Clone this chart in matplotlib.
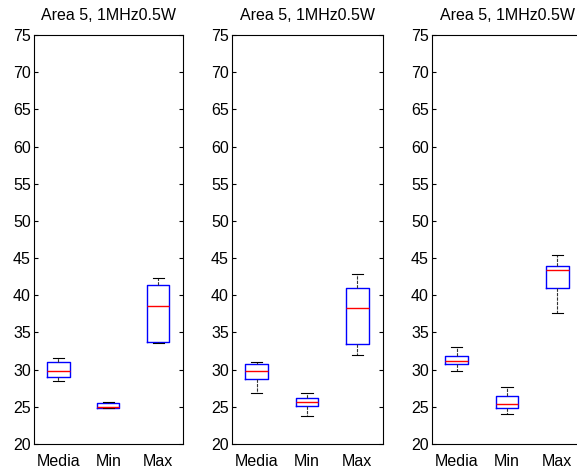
import matplotlib
matplotlib.use("Agg")
from matplotlib import pyplot as plt

plt.rcParams['font.family'] = ['Liberation Sans', 'DejaVu Sans']
plt.rcParams['font.size'] = 11.5

labels = ["Media", "Min", "Max"]
title = "Area 5, 1MHz0.5W"

# per subplot, per group: lower whisker, q1, median, q3, upper whisker
panel1 = [[28.5, 29.0, 29.8, 31.0, 31.5],
          [24.8, 24.9, 25.0, 25.5, 25.6],
          [33.6, 33.7, 38.5, 41.4, 42.3]]
panel2 = [[26.9, 28.8, 29.8, 30.7, 31.0],
          [23.7, 25.1, 25.6, 26.2, 26.9],
          [32.0, 33.5, 38.3, 41.0, 42.9]]
panel3 = [[29.8, 30.8, 31.2, 31.8, 33.0],
          [24.0, 24.9, 25.4, 26.5, 27.6],
          [37.6, 41.0, 43.4, 43.9, 45.4]]
panels = [panel1, panel2, panel3]

fig = plt.figure(figsize=(5.77, 4.69), dpi=100)
lefts = [33.5 / 577, 231.5 / 577, 431.5 / 577]
widths = [149.5 / 577, 151 / 577, 151 / 577]
bottom = (469 - 444) / 469
height = (444 - 35) / 469

for left, width, data in zip(lefts, widths, panels):
    ax = fig.add_axes([left, bottom, width, height])
    stats = []
    for lab, v in zip(labels, data):
        stats.append({"label": lab, "whislo": v[0], "q1": v[1], "med": v[2],
                      "q3": v[3], "whishi": v[4], "fliers": []})
    ax.bxp(stats, positions=[1, 2, 3], widths=0.45, showfliers=False,
           boxprops=dict(color="blue", linewidth=1),
           medianprops=dict(color="red", linewidth=1),
           whiskerprops=dict(color="#333333", linewidth=0.8, linestyle=(0, (3, 1))),
           capprops=dict(color="black", linewidth=0.8),
           capwidths=0.22)
    ax.set_xlim(0.5, 3.5)
    ax.set_ylim(20, 75)
    ax.set_yticks(range(20, 80, 5))
    ax.tick_params(direction="in", right=True, top=False, length=3, width=0.8,
                   labelsize=11.5, pad=2)
    ax.tick_params(axis="x", length=0, pad=7)
    for sp in ax.spines.values():
        sp.set_linewidth(0.8)
    ax.set_title(title, fontsize=11.5, pad=11)

plt.savefig("out.png", dpi=100)
